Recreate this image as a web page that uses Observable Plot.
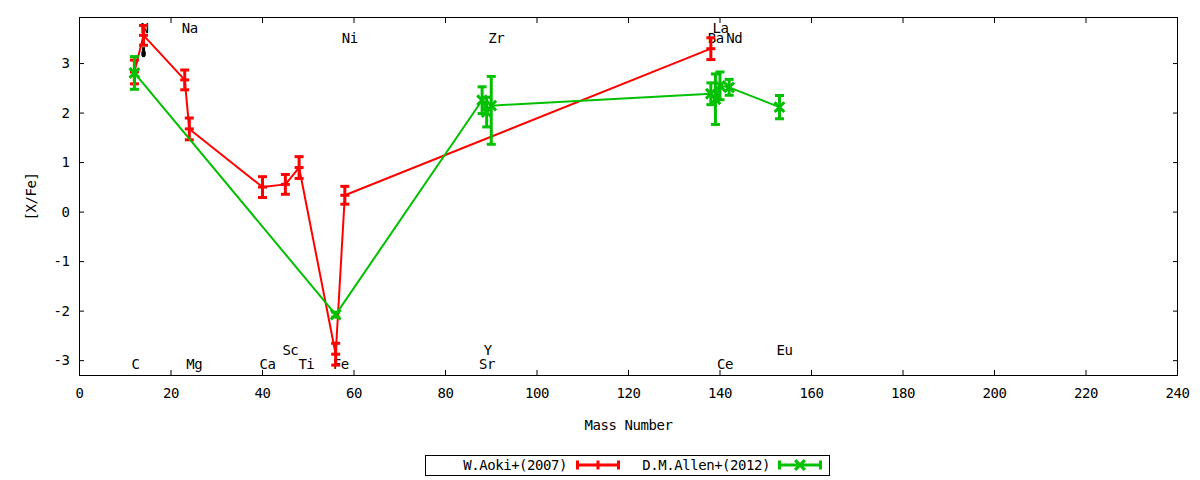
<!DOCTYPE html>
<html>
<head>
<meta charset="utf-8">
<script src="https://cdn.jsdelivr.net/npm/d3@7"></script>
<script src="https://cdn.jsdelivr.net/npm/@observablehq/plot@0.6"></script>
<style>
  html, body { margin: 0; padding: 0; background: #fff; }
  #wrap { position: relative; width: 1200px; height: 480px; background: #fff; }
  #legend { position: absolute; left: 0; top: 448px; }
</style>
</head>
<body>
<div id="wrap"><div id="chart"></div><div id="legend"></div></div>
<script>
// ---------- data ----------
const xTicks = [0, 20, 40, 60, 80, 100, 120, 140, 160, 180, 200, 220, 240];
const yTicks = [-3, -2, -1, 0, 1, 2, 3];

// W.Aoki+(2007)
const aokiElements = ["C", "N", "Na", "Mg", "Ca", "Sc", "Ti", "Fe", "Ni", "Ba"];
const aokiMass  = [12, 14, 23, 24, 40, 45, 48, 56, 58, 138];
const aokiValue = [2.83, 3.57, 2.67, 1.68, 0.505, 0.56, 0.90, -2.87, 0.34, 3.30];
const aokiErr   = [0.24, 0.20, 0.20, 0.22, 0.21, 0.20, 0.22, 0.22, 0.18, 0.22];

// D.M.Allen+(2012)
const allenElements = ["C", "Fe", "Sr", "Y", "Zr", "Ba", "La", "Ce", "Nd", "Eu"];
const allenMass    = [12, 56, 88, 89, 90, 138, 139, 140, 142, 153];
const allenValue   = [2.81, -2.07, 2.26, 2.02, 2.15, 2.39, 2.28, 2.55, 2.52, 2.12];
const allenErrLow  = [0.33, 0.05, 0.27, 0.30, 0.78, 0.22, 0.51, 0.28, 0.16, 0.235];
const allenErrHigh = [0.33, 0.05, 0.27, 0.30, 0.59, 0.22, 0.51, 0.28, 0.16, 0.235];

// unlabelled black point (under the red N point)
const extraMass  = [14];
const extraValue = [3.20];
const extraLow   = [3.12];
const extraHigh  = [3.32];

// element labels
const labelNames = ["C", "N", "Na", "Mg", "Ca", "Sc", "Ti", "Fe", "Ni", "Sr", "Y", "Zr", "Ba", "La", "Ce", "Nd", "Eu"];
const labelMass  = [12, 14, 23, 24, 40, 45, 48.5, 56, 58, 88, 89, 90, 138, 139, 140, 142, 153];
const labelY     = [-3.07, 3.71, 3.71, -3.07, -3.07, -2.79, -3.07, -3.07, 3.5, -3.07, -2.79, 3.5, 3.5, 3.71, -3.07, 3.5, -2.79];

const seriesNames = ["W.Aoki+(2007)", "D.M.Allen+(2012)"];
const seriesColors = ["#ff0000", "#00c000"];

// ---------- tables ----------
const aoki = aokiMass.map((m, i) => ({el: aokiElements[i], mass: m, value: aokiValue[i], lo: aokiValue[i] - aokiErr[i], hi: aokiValue[i] + aokiErr[i]}));
const allen = allenMass.map((m, i) => ({el: allenElements[i], mass: m, value: allenValue[i], lo: allenValue[i] - allenErrLow[i], hi: allenValue[i] + allenErrHigh[i]}));
const extra = extraMass.map((m, i) => ({mass: m, value: extraValue[i], lo: extraLow[i], hi: extraHigh[i]}));
const labels = labelNames.map((n, i) => ({name: n, mass: labelMass[i], y: labelY[i]}));

const hbar = {draw(ctx, size) { const r = Math.sqrt(size / Math.PI); ctx.moveTo(-r, 0); ctx.lineTo(r, 0); }};
const FONT = "DejaVu Sans Mono";

function seriesMarks(data, color, pointSymbol, lineWidth = 2, barWidth = 3, capR = 4.5) {
  return [
    Plot.line(data, {x: "mass", y: "value", stroke: color, strokeWidth: lineWidth}),
    Plot.ruleX(data, {x: "mass", y1: "lo", y2: "hi", stroke: color, strokeWidth: barWidth}),
    Plot.dot(data, {x: "mass", y: "lo", symbol: hbar, r: capR, stroke: color, strokeWidth: barWidth, fill: "none"}),
    Plot.dot(data, {x: "mass", y: "hi", symbol: hbar, r: capR, stroke: color, strokeWidth: barWidth, fill: "none"}),
    Plot.dot(data, {x: "mass", y: "value", symbol: pointSymbol, r: 4.5, stroke: color, strokeWidth: 3, fill: "none"})
  ];
}

const chart = Plot.plot({
  width: 1200,
  height: 448,
  marginLeft: 79,
  marginRight: 23,
  marginTop: 17,
  marginBottom: 73,
  style: {fontFamily: FONT, fontSize: "14px", letterSpacing: "-0.45px", background: "#fff", color: "#000"},
  x: {domain: [0, 240]},
  y: {domain: [-3.3, 3.93]},
  marks: [
    Plot.text(labels, {x: "mass", y: "y", text: "name", textAnchor: "start", lineAnchor: "middle", dx: -3, fill: "#000"}),
    Plot.line(extra, {x: "mass", y: "value", stroke: "#000"}),
    Plot.ruleX(extra, {x: "mass", y1: "lo", y2: "hi", stroke: "#000", strokeWidth: 3}),
    Plot.dot(extra, {x: "mass", y: "value", symbol: "square", r: 2.5, fill: "#000"}),
    ...seriesMarks(aoki, seriesColors[0], hbar),
    ...seriesMarks(allen, seriesColors[1], d3.symbolTimes),
    Plot.frame({stroke: "#000", strokeWidth: 1}),
    Plot.axisX({ticks: xTicks, tickSize: -5, tickPadding: 18, tickFormat: d => String(d), label: null}),
    Plot.axisX({anchor: "top", ticks: xTicks, tickSize: -5, tickFormat: () => "", label: null}),
    Plot.axisY({ticks: yTicks, tickSize: -5, tickPadding: 15, tickFormat: d => String(d), label: null}),
    Plot.axisY({anchor: "right", ticks: yTicks, tickSize: -5, tickFormat: () => "", label: null}),
    Plot.text(["Mass Number"], {frameAnchor: "bottom", dy: 50, text: d => d, lineAnchor: "middle", fill: "#000"}),
    Plot.text(["[X/Fe]"], {frameAnchor: "left", dx: -48, rotate: -90, text: d => d, lineAnchor: "middle", textAnchor: "middle", fill: "#000"})
  ]
});
document.getElementById("chart").appendChild(chart);

// ---------- legend ----------
const lg = d3.select("#legend").append("svg").attr("width", 1200).attr("height", 32)
  .style("font-family", FONT).style("font-size", "14px").style("letter-spacing", "-0.45px");
lg.append("rect").attr("x", 425.5).attr("y", 7.5).attr("width", 404).attr("height", 20)
  .attr("fill", "#fff").attr("stroke", "#000").attr("stroke-width", 1);
const legendItems = [
  {textEnd: 567, x1: 576, x2: 620},
  {textEnd: 770, x1: 778, x2: 822}
];
seriesNames.forEach((name, i) => {
  const it = legendItems[i];
  const c = seriesColors[i];
  lg.append("text").attr("x", it.textEnd).attr("y", 22).attr("text-anchor", "end").attr("fill", "#000").text(name);
  const y = 17;
  lg.append("line").attr("x1", it.x1).attr("x2", it.x2).attr("y1", y).attr("y2", y).attr("stroke", c).attr("stroke-width", 3);
  [it.x1 + 1.5, it.x2 - 1.5].forEach(x => lg.append("line").attr("x1", x).attr("x2", x).attr("y1", y - 4.5).attr("y2", y + 4.5).attr("stroke", c).attr("stroke-width", 3));
  const mx = (it.x1 + it.x2) / 2;
  if (i === 0) {
    lg.append("line").attr("x1", mx).attr("x2", mx).attr("y1", y - 4.5).attr("y2", y + 4.5).attr("stroke", c).attr("stroke-width", 3);
  } else {
    lg.append("path").attr("transform", `translate(${mx},${y})`).attr("d", d3.symbol(d3.symbolTimes, 4.5 * 4.5 * Math.PI)())
      .attr("fill", "none").attr("stroke", c).attr("stroke-width", 3);
  }
});
</script>
</body>
</html>
